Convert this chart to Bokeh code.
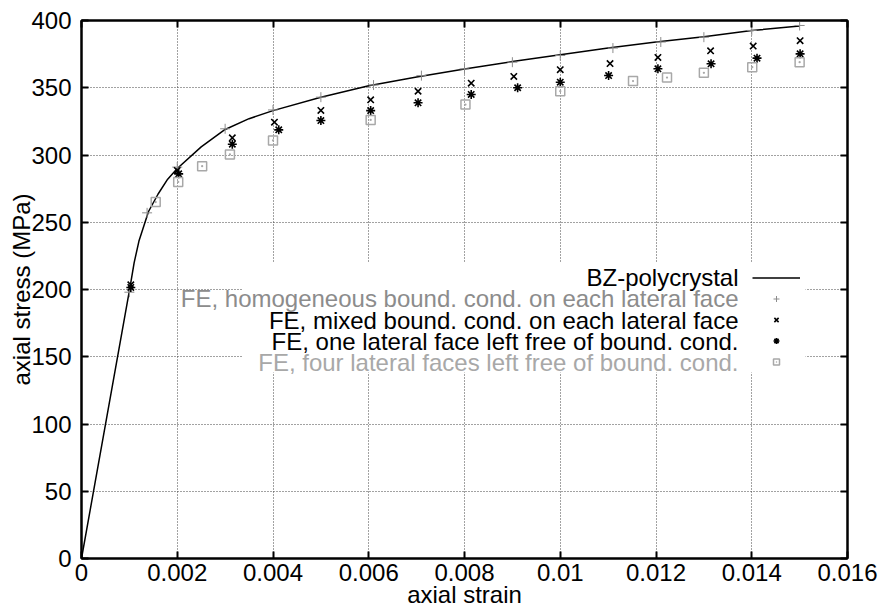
from bokeh.plotting import figure
from bokeh.models import (Range1d, LinearAxis, FixedTicker, BoxAnnotation, Label,
                          Legend, LegendItem)
from bokeh.embed import file_html
from bokeh.resources import INLINE

FONT = "Liberation Sans"
FS = "24px"

# axis ticks
x_ticks = [0, 0.002, 0.004, 0.006, 0.008, 0.010, 0.012, 0.014, 0.016]
x_tick_labels = ["0", "0.002", "0.004", "0.006", "0.008", "0.01", "0.012", "0.014", "0.016"]
y_ticks = [0, 50, 100, 150, 200, 250, 300, 350, 400]

# BZ-polycrystal model curve
bz_strain = [0, 0.00102, 0.00110, 0.0012, 0.0014, 0.0016, 0.0018, 0.002, 0.0025, 0.003,
             0.0035, 0.004, 0.005, 0.006, 0.007, 0.008, 0.009, 0.010, 0.011, 0.012,
             0.013, 0.014, 0.015]
bz_stress = [0, 203, 220, 236, 258, 271, 282, 290, 306, 319,
             327, 333, 343, 351.5, 358, 364, 369.5, 374.5, 379.5, 384,
             388, 392.5, 396]

# FE, homogeneous boundary conditions
homog_strain = [0.001, 0.00137, 0.002, 0.003, 0.004, 0.005, 0.0061, 0.0071, 0.008, 0.009,
                0.010, 0.0111, 0.0121, 0.013, 0.014, 0.015]
homog_stress = [198, 257, 291, 319.5, 333.5, 343, 352, 359, 364, 369,
                374, 379.5, 384, 387.6, 392.6, 396.3]

# FE, mixed boundary conditions
mixed_strain = [0.00103, 0.002, 0.00315, 0.00403, 0.005, 0.00604, 0.00703, 0.00814, 0.00903,
                0.010, 0.01104, 0.01204, 0.01314, 0.01403, 0.01501]
mixed_stress = [203.5, 288.5, 312.8, 324.4, 333.1, 341, 347.4, 353.4, 358.4,
                363.4, 368, 372.5, 377.5, 381, 385]

# FE, one lateral face free
one_strain = [0.00103, 0.00203, 0.00315, 0.00412, 0.005, 0.00604, 0.00703, 0.00814, 0.00911,
              0.010, 0.01101, 0.01204, 0.01315, 0.01411, 0.01501]
one_stress = [201.5, 286, 308, 318.7, 325.6, 333, 338.8, 345, 350,
              354.1, 359.1, 364.1, 367.8, 372, 375.2]

# FE, four lateral faces free
four_strain = [0.00155, 0.00202, 0.00252, 0.0031, 0.004, 0.00604, 0.00802, 0.010, 0.01152,
               0.01223, 0.013, 0.01401, 0.015]
four_stress = [265, 280, 291.7, 300.4, 310.8, 326.1, 337.5, 347.4, 355,
               357.6, 361.1, 365.3, 369]

legend_labels = [
    "BZ-polycrystal",
    "FE, homogeneous bound. cond. on each lateral face",
    "FE, mixed bound. cond. on each lateral face",
    "FE, one lateral face left free of bound. cond.",
    "FE, four lateral faces left free of bound. cond.",
]
legend_colors = ["black", "#8c8c8c", "black", "black", "#a8a8a8"]

p = figure(width=883, height=613, output_backend="svg", toolbar_location=None,
           x_range=Range1d(0, 0.016), y_range=Range1d(0, 400),
           min_border_left=81, min_border_right=36, min_border_top=20, min_border_bottom=55,
           x_axis_label="axial strain", y_axis_label="axial stress (MPa)")
p.background_fill_color = "white"
p.border_fill_color = "white"
p.outline_line_color = "black"
p.outline_line_width = 2

p.xaxis.ticker = FixedTicker(ticks=x_ticks)
p.xaxis.major_label_overrides = {t: s for t, s in zip(x_ticks, x_tick_labels)}
p.yaxis.ticker = FixedTicker(ticks=y_ticks)

for ax in (p.xaxis[0], p.yaxis[0]):
    ax.axis_line_width = 2
    ax.major_tick_line_width = 2
    ax.major_tick_in = 7
    ax.major_tick_out = 0
    ax.minor_tick_line_color = None
    ax.major_label_text_font = FONT
    ax.major_label_text_font_size = FS
    ax.major_label_text_color = "black"
    ax.axis_label_text_font = FONT
    ax.axis_label_text_font_size = FS
    ax.axis_label_text_font_style = "normal"
    ax.axis_label_text_color = "black"
p.xaxis.major_label_standoff = 5
p.xaxis.axis_label_standoff = -3
p.yaxis.major_label_standoff = 10
p.yaxis.axis_label_standoff = -7

# mirrored ticks on the top and right edges, without labels
for loc, ticks in (("right", y_ticks), ("above", x_ticks)):
    ax = LinearAxis(ticker=FixedTicker(ticks=ticks), axis_line_width=2,
                    major_tick_line_width=2, major_tick_in=7, major_tick_out=0,
                    minor_tick_line_color=None, major_label_text_font_size="0px",
                    major_label_text_color=None, major_label_standoff=0)
    p.add_layout(ax, loc)

p.xgrid.grid_line_color = "#444444"
p.ygrid.grid_line_color = "#444444"
p.xgrid.grid_line_dash = "1 2"
p.ygrid.grid_line_dash = "1 2"
p.xgrid.grid_line_width = 1
p.ygrid.grid_line_width = 1

# opaque key area
p.add_layout(BoxAnnotation(left=161, right=724, bottom=186, top=296,
                           left_units="screen", right_units="screen",
                           bottom_units="screen", top_units="screen",
                           fill_color="white", fill_alpha=1, line_color=None,
                           level="underlay"))

r_bz = p.line(bz_strain, bz_stress, line_color="black", line_width=1.5)
r_h = p.scatter(homog_strain, homog_stress, marker="cross", size=10,
                line_color="#8c8c8c", line_width=1)
r_m = p.scatter(mixed_strain, mixed_stress, marker="x", size=9,
                line_color="black", line_width=1.6)
r_o = p.scatter(one_strain, one_stress, marker="asterisk", size=9,
                line_color="black", line_width=1.6)
r_f = p.scatter(four_strain, four_stress, marker="square_dot", size=9,
                line_color="#a8a8a8", fill_color=None, line_width=1.5)

# key samples on the right, text right-aligned to their left
key = Legend(items=[LegendItem(label=" ", renderers=[r]) for r in (r_bz, r_h, r_m, r_o, r_f)],
             location=(671, 189), orientation="vertical",
             glyph_width=48, glyph_height=15, spacing=6, padding=0, margin=0,
             label_width=0, label_height=15, label_standoff=0,
             label_text_font_size="8px",
             background_fill_alpha=0, border_line_alpha=0)
p.add_layout(key)

key_rows_y = [281, 260, 238, 217, 196]
for text, color, yy in zip(legend_labels, legend_colors, key_rows_y):
    p.add_layout(Label(x=657, y=yy, x_units="screen", y_units="screen", text=text,
                       text_align="right", text_baseline="middle",
                       text_font=FONT, text_font_size=FS, text_color=color))

open("out.html", "w").write(file_html(p, INLINE))
